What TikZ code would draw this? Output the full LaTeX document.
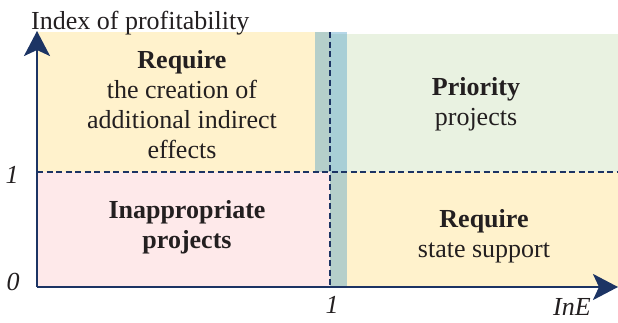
\documentclass[tikz,border=0pt]{standalone}
\usepackage{fontspec}
\setmainfont{Liberation Serif}
\usetikzlibrary{arrows.meta}
\definecolor{axisnavy}{RGB}{28,52,100}
\definecolor{qyellow}{RGB}{255,242,204}
\definecolor{qgreen}{RGB}{233,242,225}
\definecolor{qpink}{RGB}{254,233,234}
\definecolor{qstrip}{RGB}{80,160,200}
\definecolor{txt}{RGB}{35,31,32}
\tikzset{
  axisline/.style={draw=axisnavy, line width=2.6pt, -{Stealth[length=25pt,width=26pt,inset=6pt]}},
  gridline/.style={draw=axisnavy, line width=1.6pt, dash pattern=on 6pt off 3.5pt},
  blocktext/.style={text=txt, align=center, inner sep=0pt, font=\fontsize{26}{30}\selectfont},
  labeltext/.style={text=txt, inner sep=0pt, font=\fontsize{26}{30}\selectfont},
  stripfill/.style={fill=qstrip, opacity=0.42},
}
\begin{document}
\begin{tikzpicture}[x=1pt,y=-1pt]
\useasboundingbox (0,0) rectangle (618,322);
% quadrant fills
\fill[qyellow] (37,32) rectangle (330,172);
\fill[qgreen] (330,34) rectangle (618,172);
\fill[qpink] (37,172) rectangle (330,287);
\fill[qyellow] (330,172) rectangle (618,287);
% strip
\fill[stripfill] (315,32) rectangle (347,172);
\fill[stripfill] (330,172) rectangle (347,287);
% coordinates
\coordinate (o) at (37,287);
\coordinate (ytop) at (37,31);
\coordinate (xend) at (618,287);
\coordinate (h1) at (37,172);
\coordinate (h2) at (618,172);
\coordinate (v1) at (330,32);
\coordinate (v2) at (330,287);
% dashed lines
\draw[gridline] (h1) -- (h2);
\draw[gridline] (v1) -- (v2);
% axes
\draw[axisline] (o) -- (ytop);
\draw[axisline] (o) -- (xend);
% texts
\node[blocktext] (tl) at (182,104.2) {\textbf{Require}\\the creation of\\additional indirect\\effects};
\node[blocktext] (tr) at (476,103.9) {\textbf{Priority}\\projects};
\node[blocktext] (bl) at (187,226.9) {\textbf{Inappropriate}\\\textbf{projects}};
\node[blocktext] (br) at (484,236) {\textbf{Require}\\state support};
\node[labeltext, anchor=base west] (ylab) at (31,29) {Index of profitability};
\node[labeltext, anchor=base] (yone) at (12,183) {\textit{1}};
\node[labeltext, anchor=base] (yzero) at (13,290) {\textit{0}};
\node[labeltext, anchor=base] (xone) at (332,313) {\textit{1}};
\node[labeltext, anchor=base] (xlab) at (572,315) {\textit{InE}};
\end{tikzpicture}
\end{document}
